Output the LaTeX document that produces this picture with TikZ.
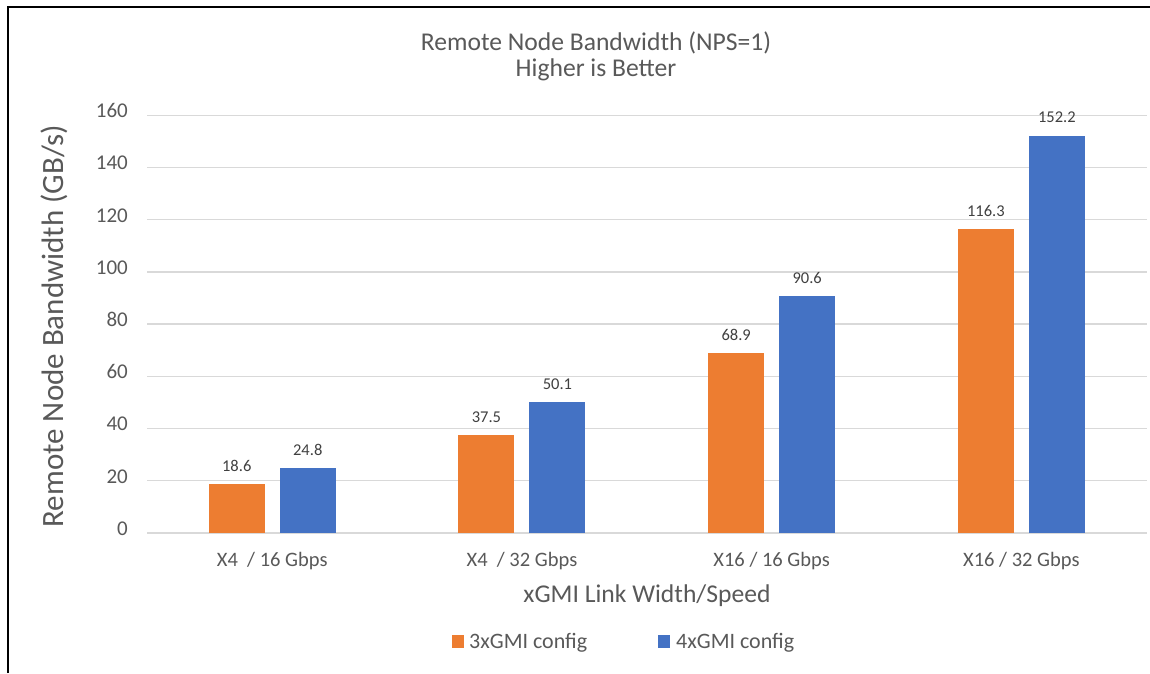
\documentclass[tikz,border=0pt]{standalone}
\usepackage{fontspec}
\setmainfont{Carlito}
\definecolor{barorange}{HTML}{ED7D31}
\definecolor{barblue}{HTML}{4472C4}
\definecolor{gridgray}{HTML}{D9D9D9}
\definecolor{axistext}{HTML}{595959}
\definecolor{valtext}{HTML}{404040}
\tikzset{
  gridline/.style={draw=gridgray, line width=1.3pt},
  ticklabel/.style={anchor=mid east, inner sep=0pt, text=axistext, font=\fontsize{21}{24}\selectfont},
  catlabel/.style={anchor=base, inner sep=0pt, text=axistext, font=\fontsize{20.5}{24}\selectfont},
  vallabel/.style={anchor=base, inner sep=0pt, text=valtext, font=\fontsize{16.5}{20}\selectfont},
  titletext/.style={inner sep=0pt, text=axistext, font=\fontsize{25.6}{26.7}\selectfont},
  legendtext/.style={anchor=base west, inner sep=0pt, text=axistext, font=\fontsize{22}{26}\selectfont},
  orangebar/.style={fill=barorange},
  bluebar/.style={fill=barblue},
}
\begin{document}
\begin{tikzpicture}[x=1pt, y=-1pt]
  \useasboundingbox (0,0) rectangle (1150,673);
  \fill[white] (0,0) rectangle (1150,673);

  % frame (top and left edges)
  \draw[line width=2pt] (7.5,673) -- (7.5,7) -- (1150,7);

  % horizontal grid lines and value axis labels (0 at y=533, 2.611 per unit)
  \foreach \v [count=\i] in {0,20,...,160} {
    \pgfmathsetmacro{\gy}{533-2.611*\v}
    \draw[gridline] (147.4,\gy) -- (1147,\gy);
    \node[ticklabel] (tick\i) at (128,\gy) {\v};
  }

  % bars and value labels
  \foreach \a/\b/\cat [count=\i] in {18.6/24.8/{X4\ \ / 16 Gbps},
                                     37.5/50.1/{X4\ \ / 32 Gbps},
                                     68.9/90.6/{X16 / 16 Gbps},
                                     116.3/152.2/{X16 / 32 Gbps}} {
    \pgfmathsetmacro{\c}{147.4+249.7*(\i-0.5)}
    \pgfmathsetmacro{\ya}{533-2.611*\a}
    \pgfmathsetmacro{\yb}{533-2.611*\b}
    \fill[orangebar] (\c-63.5,533) rectangle (\c-7.5,\ya);
    \fill[bluebar] (\c+7.5,533) rectangle (\c+63.5,\yb);
    \node[vallabel] (va\i) at (\c-35.5,\ya-13) {\a};
    \node[vallabel] (vb\i) at (\c+35.5,\yb-13) {\b};
    \node[catlabel] (cat\i) at (\c,566) {\cat};
  }

  % titles
  \node[titletext, anchor=base] (title1) at (596,50) {Remote Node Bandwidth (NPS=1)};
  \node[titletext, anchor=base] (title2) at (596,76.7) {Higher is Better};
  \node[titletext, anchor=base] (xtitle) at (647,602) {xGMI Link Width/Speed};
  \node[inner sep=0pt, text=axistext, font=\fontsize{31}{34}\selectfont, rotate=90, anchor=base]
    (ytitle) at (63,326) {Remote Node Bandwidth (GB/s)};

  % legend
  \fill[orangebar] (452,635) rectangle (464,648);
  \node[legendtext] (leg1) at (469,648) {3xGMI config};
  \fill[bluebar] (658,635) rectangle (670,648);
  \node[legendtext] (leg2) at (676,648) {4xGMI config};
\end{tikzpicture}
\end{document}
